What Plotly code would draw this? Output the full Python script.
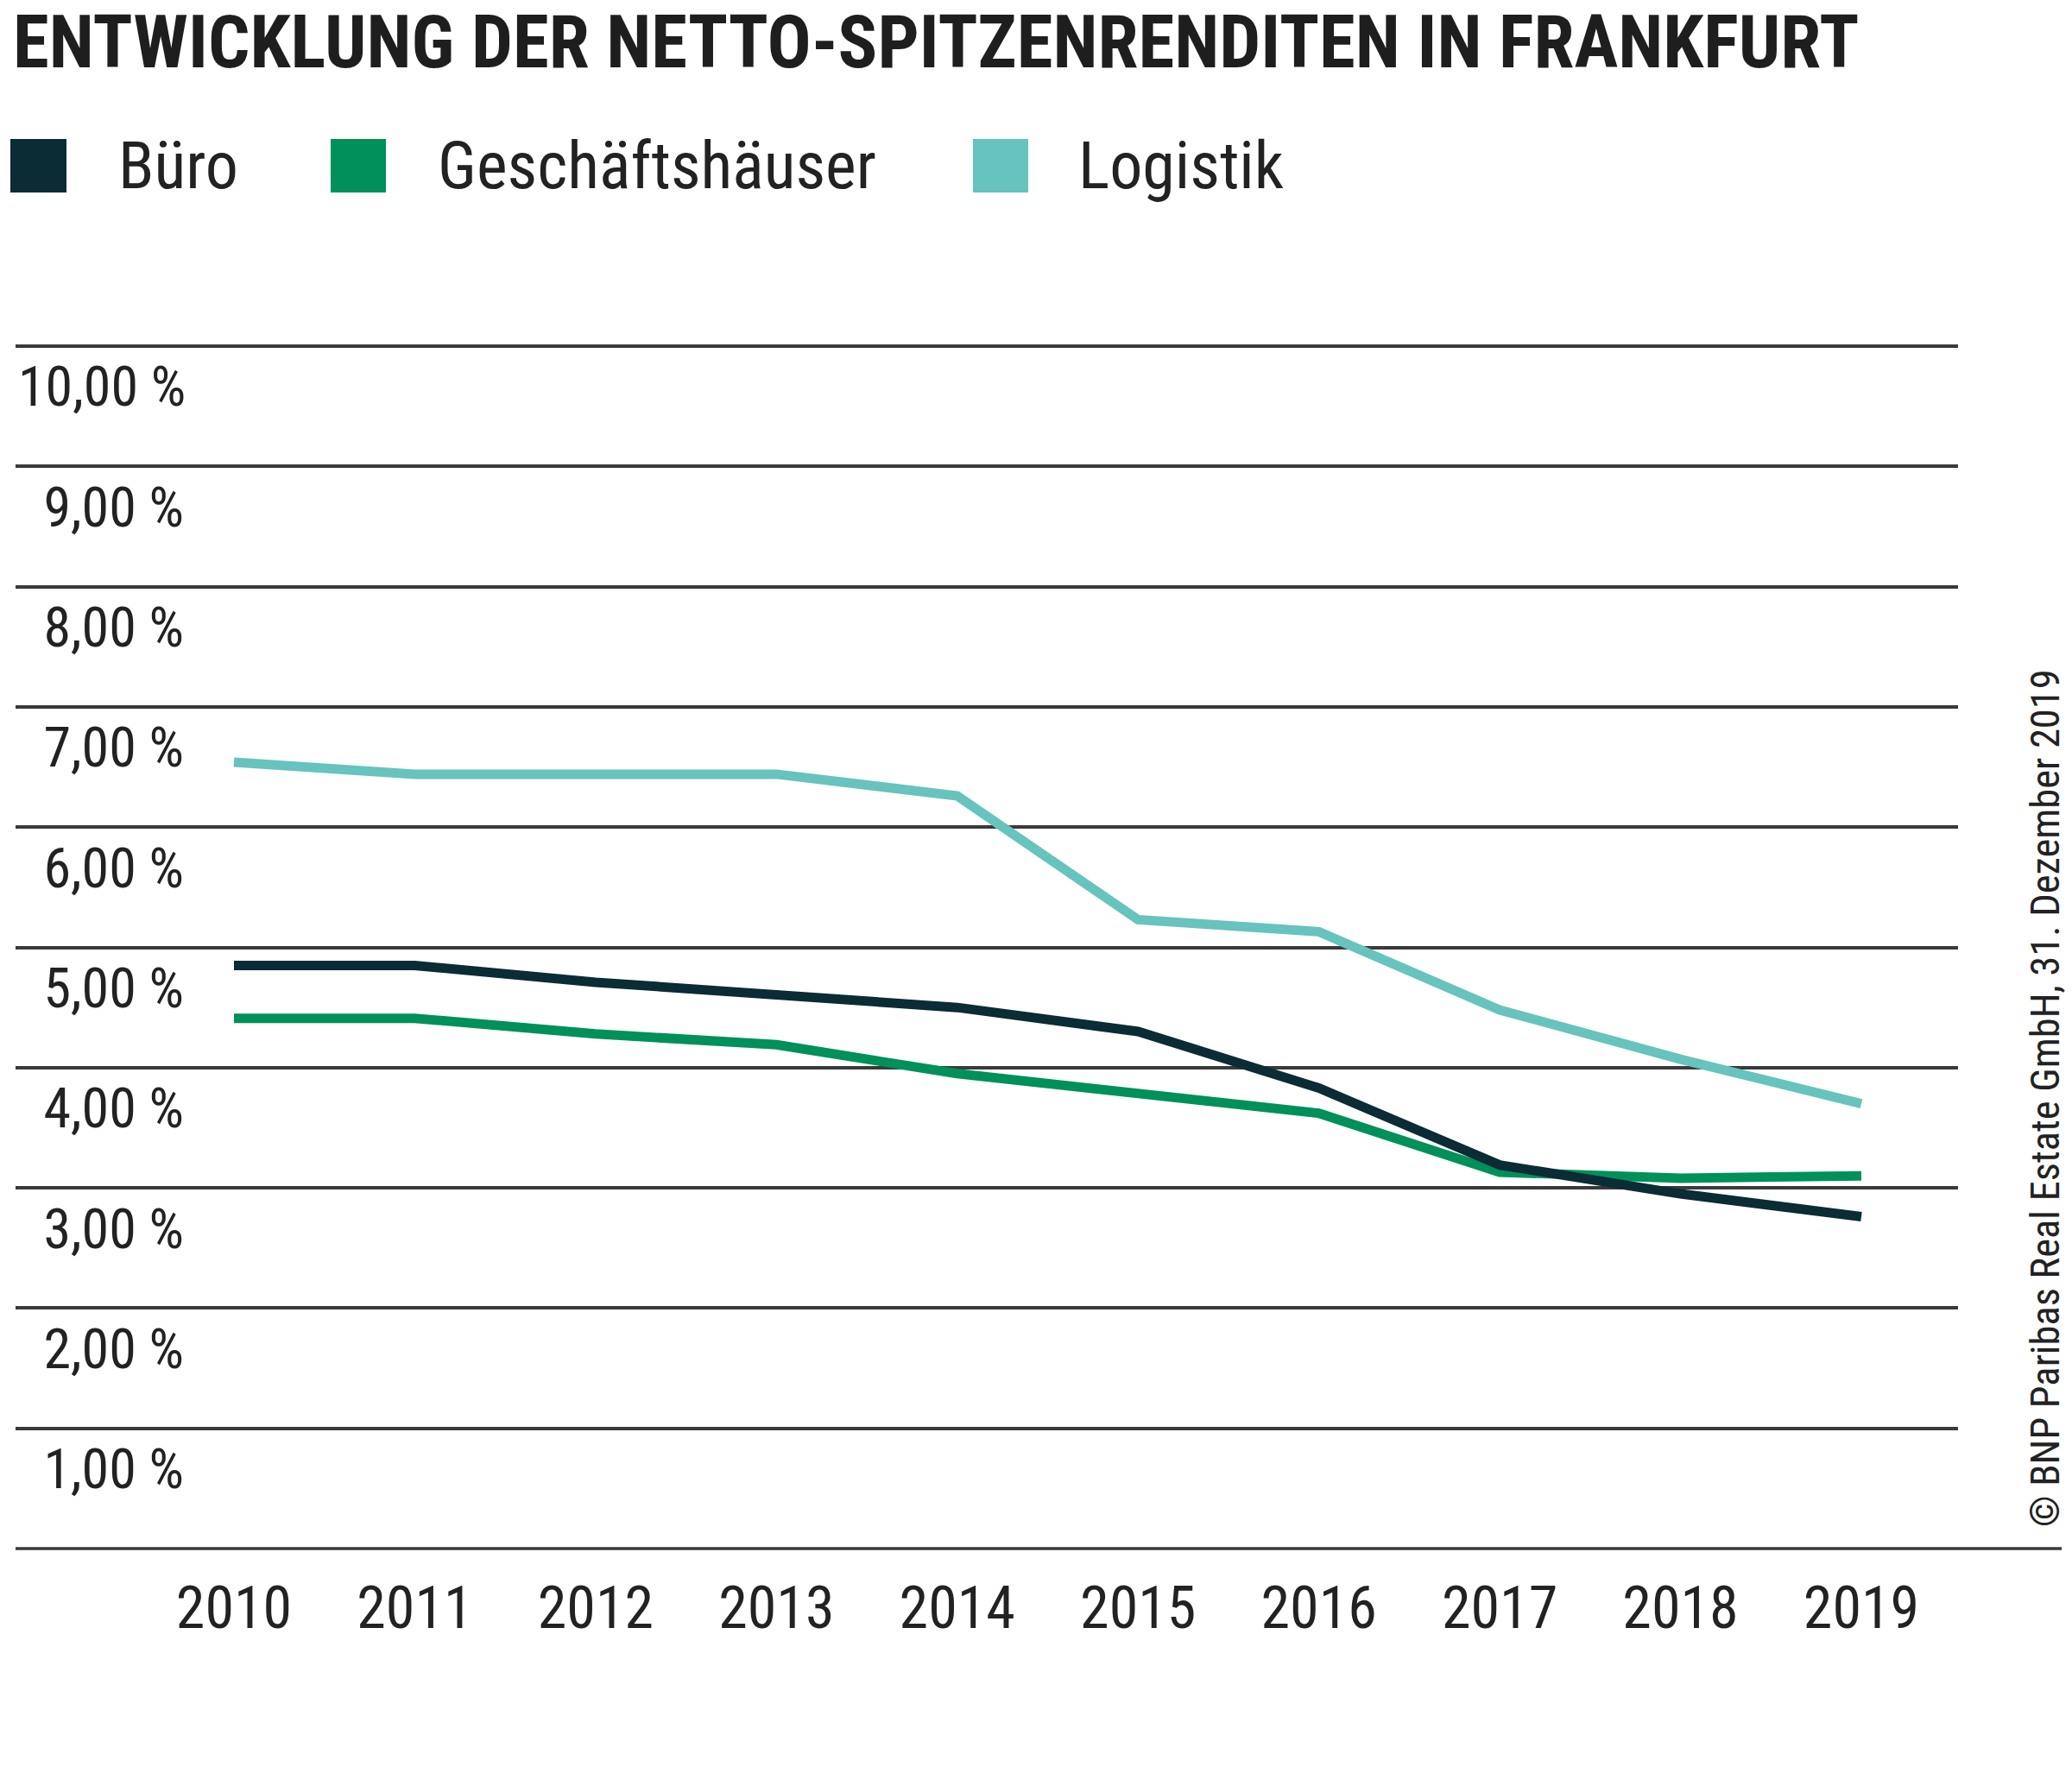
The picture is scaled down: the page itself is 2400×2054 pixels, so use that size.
import plotly.graph_objects as go

# ---- data ----
years = [2010, 2011, 2012, 2013, 2014, 2015, 2016, 2017, 2018, 2019]
year_labels = [str(y) for y in years]
buero = [4.85, 4.85, 4.71, 4.61, 4.50, 4.30, 3.83, 3.19, 2.95, 2.76]
geschaeft = [4.41, 4.41, 4.28, 4.19, 3.95, 3.78, 3.62, 3.13, 3.08, 3.10]
logistik = [6.54, 6.44, 6.44, 6.44, 6.26, 5.23, 5.13, 4.48, 4.07, 3.70]
series_names = ["Büro", "Geschäftshäuser", "Logistik"]
y_ticks = [1, 2, 3, 4, 5, 6, 7, 8, 9, 10]
y_labels = ["\u00a0\u00a01,00 %", "\u00a0\u00a02,00 %", "\u00a0\u00a03,00 %", "\u00a0\u00a04,00 %",
            "\u00a0\u00a05,00 %", "\u00a0\u00a06,00 %", "\u00a0\u00a07,00 %", "\u00a0\u00a08,00 %",
            "\u00a0\u00a09,00 %", "10,00 %"]
title_text = "ENTWICKLUNG DER NETTO-SPITZENRENDITEN IN FRANKFURT"
source_text = "© BNP Paribas Real Estate GmbH, 31. Dezember 2019"

colors = {"Büro": "#0b2b35", "Geschäftshäuser": "#00905a", "Logistik": "#67c3bd"}

W, H = 2400, 2054
ML, MR, MT, MB = 18, 132, 394, 253
PW = W - ML - MR
PH = H - MT - MB


def px(x):
    return (x - ML) / PW


def py(y):
    return (H - MB - y) / PH


FONT = "Roboto Condensed, Liberation Sans, sans-serif"

fig = go.Figure()
for name, vals in [("Logistik", logistik), ("Geschäftshäuser", geschaeft), ("Büro", buero)]:
    fig.add_trace(go.Scatter(x=years, y=vals, mode="lines", name=name,
                             line=dict(color=colors[name], width=11),
                             showlegend=False))

fig.update_layout(
    width=W, height=H,
    margin=dict(l=ML, r=MR, t=MT, b=MB, pad=0),
    paper_bgcolor="white", plot_bgcolor="white",
    font=dict(family=FONT, color="#222222"),
    xaxis=dict(range=[2008.792, 2019.535], tickvals=years, ticktext=year_labels,
               showgrid=False, zeroline=False, showline=False,
               tickfont=dict(size=68, color="#222222", family=FONT),
               ticklabelstandoff=16),
    yaxis=dict(range=[-0.05, 10.05], tickvals=y_ticks, ticktext=y_labels,
               showgrid=True, gridcolor="#3a3a3a", gridwidth=3.5,
               zeroline=False, showline=False,
               ticklabelposition="inside", ticklabelshift=47, ticklabelstandoff=0,
               tickfont=dict(size=64, color="#222222", family=FONT)),
)

# bottom baseline extending further right
fig.add_shape(type="line", xref="paper", yref="y", x0=0, x1=px(2388), y0=0, y1=0,
              line=dict(color="#3a3a3a", width=3.5))

# title
fig.add_annotation(text=f"<b>{title_text}</b>", xref="paper", yref="paper",
                   x=px(13), y=py(49), xanchor="left", yanchor="middle",
                   showarrow=False, font=dict(size=85, color="#1e1e1e", family=FONT))

# legend (manual)
legend_sq = [(12, 77), (383, 447), (1127, 1191)]
legend_tx = [135, 505, 1247]
for name, (x0, x1), tx in zip(series_names, legend_sq, legend_tx):
    fig.add_shape(type="rect", xref="paper", yref="paper",
                  x0=px(x0), x1=px(x1), y0=py(223), y1=py(161),
                  fillcolor=colors[name], line=dict(width=0))
    fig.add_annotation(text=name, xref="paper", yref="paper", x=px(tx), y=py(192),
                       xanchor="left", yanchor="middle", showarrow=False,
                       font=dict(size=76, color="#222222", family=FONT))

# source (vertical)
fig.add_annotation(text=source_text, xref="paper", yref="paper", x=px(2369), y=py(1272),
                   xanchor="center", yanchor="middle", textangle=-90, showarrow=False,
                   font=dict(size=46.5, color="#222222", family=FONT))

fig.write_html("out.html", config={"displayModeBar": False},
               post_script="document.body.style.margin='0';")
